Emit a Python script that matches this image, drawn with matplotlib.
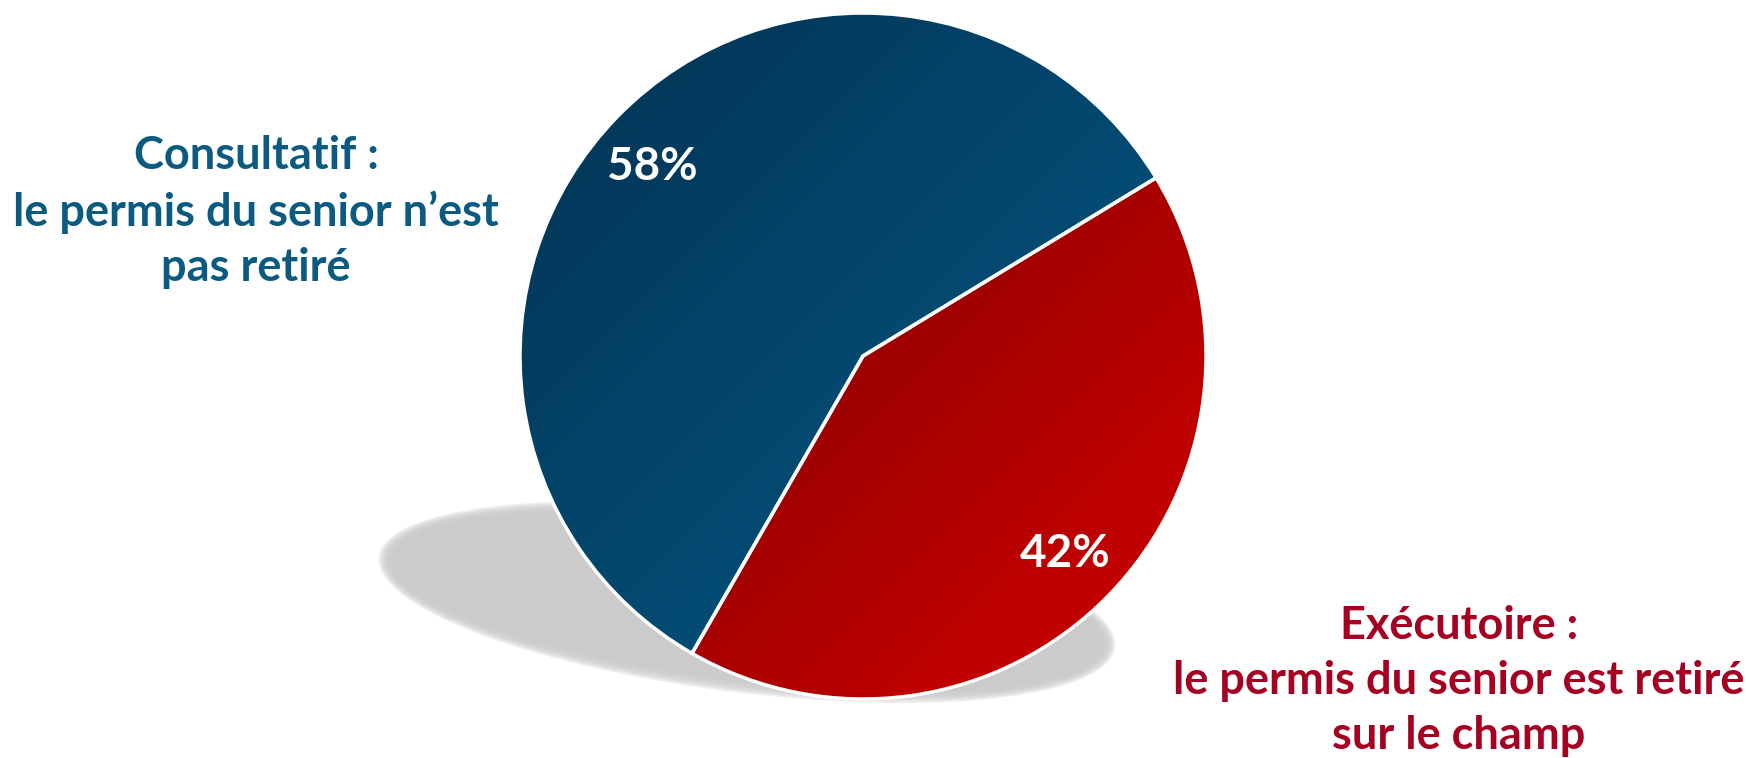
import matplotlib.pyplot as plt
import numpy as np
from matplotlib.patches import Ellipse

plt.rcParams['font.family'] = ['Lato', 'DejaVu Sans']

labels = ['Consultatif :\nle permis du senior n\u2019est\npas retiré',
          'Exécutoire :\nle permis du senior est retiré\nsur le champ']
values = [58, 42]
colors = ['#044a72', '#ab0000']
text_colors = ['#0b5a82', '#a50021']

W, H = 1746, 758
fig = plt.figure(figsize=(W / 100, H / 100), dpi=100)
ax = fig.add_axes([0, 0, 1, 1])

cx, cy, R = 863, H - 356, 343

# soft shadow under the pie
for i in range(10):
    grow = 8 - 1.6 * i
    sh = Ellipse((747, H - 602), 726 + 2 * grow, 166 + 2 * grow, angle=-7,
                 facecolor='#cbcbcb', edgecolor='none', alpha=0.3, zorder=1)
    ax.add_patch(sh)

wedges, texts, autotexts = ax.pie(values, colors=colors, startangle=31.3, counterclock=True,
                                  center=(cx, cy), radius=R, autopct='%d%%', pctdistance=0.825,
                                  wedgeprops=dict(edgecolor='white', linewidth=2.5),
                                  textprops=dict(color='white', fontsize=33, fontweight='bold'))

# diagonal gradient fill (dark top-left -> light bottom-right)
n = 300
gx, gy = np.meshgrid(np.linspace(0, 1, n), np.linspace(0, 1, n))
t = (gx + gy) / 2
grads = [((2, 50, 82), (5, 94, 140)), ((100, 0, 0), (214, 0, 0))]
for w, (c0, c1) in zip(wedges, grads):
    c0 = np.array(c0) / 255
    c1 = np.array(c1) / 255
    img = c0 + (c1 - c0) * t[..., None]
    img = np.clip(img, 0, np.array([0.76, 1, 1]))
    im = ax.imshow(img, extent=(cx - R, cx + R, cy - R, cy + R), origin='upper',
                   zorder=2, interpolation='bilinear')
    im.set_clip_path(w)
    w.set_facecolor('none')
    w.set_zorder(3)
for a in autotexts:
    a.set_zorder(4)
autotexts[0].set_position((652, H - 167))

ax.text(256, H - 212, labels[0], ha='center', va='center', fontsize=32.5,
        fontweight='bold', color=text_colors[0], linespacing=1.37)
ax.text(1459, H - 681, labels[1], ha='center', va='center', fontsize=32.5,
        fontweight='bold', color=text_colors[1], linespacing=1.37)

ax.set_xlim(0, W)
ax.set_ylim(0, H)
ax.set_aspect('auto')
ax.axis('off')
fig.savefig('out.png', dpi=100)
